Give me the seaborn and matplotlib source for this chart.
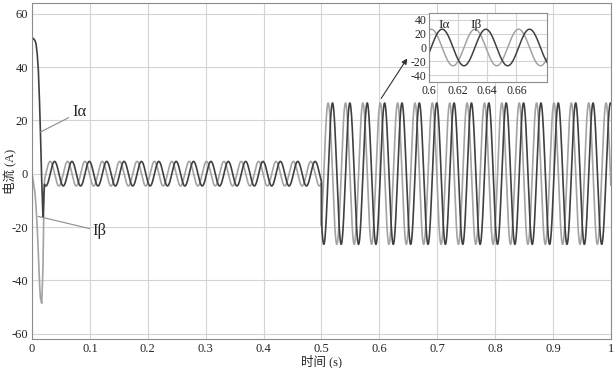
import numpy as np
import pandas as pd
import matplotlib
matplotlib.use("Agg")
import matplotlib.pyplot as plt
import seaborn as sns

# --- Data ---
# start-up transient (t in s, current in A)
trans_t = [0.0, 0.002, 0.005, 0.007, 0.009, 0.011, 0.013, 0.0145, 0.0168, 0.019, 0.0205]
trans_alpha = [50.5, 50.8, 50.0, 48.7, 45.0, 38.7, 27.0, 16.2, -2.5, -16.3, -8.0]
trans_beta = [0.0, -2.5, -7.0, -12.5, -20.0, -30.0, -41.0, -46.5, -48.6, -35.0, -12.5]

# steady segments: start, end, amplitude, period, time of first Ialpha / Ibeta peak
seg_start = [0.0215, 0.5]
seg_end = [0.5, 1.0]
seg_amp = [4.6, 26.5]
seg_period = [0.03, 0.03]
peak_alpha = [0.039, 0.039]
peak_beta = [0.0315, 0.0315]

xticks = [0, 0.1, 0.2, 0.3, 0.4, 0.5, 0.6, 0.7, 0.8, 0.9, 1]
xtick_labels = ['0', '0.1', '0.2', '0.3', '0.4', '0.5', '0.6', '0.7', '0.8', '0.9', '1']
yticks = [-60, -40, -20, 0, 20, 40, 60]
inset_xticks = [0.6, 0.62, 0.64, 0.66]
inset_yticks = [-40, -20, 0, 20, 40]

# --- Build the waveforms ---
t_parts, a_parts, b_parts = [np.array(trans_t)], [np.array(trans_alpha)], [np.array(trans_beta)]
for s, e, amp, T, pa, pb in zip(seg_start, seg_end, seg_amp, seg_period, peak_alpha, peak_beta):
    t = np.arange(s, e, 0.0002)
    t_parts.append(t)
    a_parts.append(amp * np.cos(2 * np.pi * (t - pa) / T))
    b_parts.append(amp * np.cos(2 * np.pi * (t - pb) / T))
t_all = np.concatenate(t_parts)
df = pd.DataFrame({'t': np.concatenate([t_all, t_all]),
                   'I': np.concatenate(a_parts + b_parts),
                   'sig': ['a'] * len(t_all) + ['b'] * len(t_all)})

sns.set_style("white")
plt.rcParams['font.family'] = ['Liberation Serif', 'Noto Sans CJK SC', 'DejaVu Sans']
plt.rcParams['mathtext.fontset'] = 'stix'
plt.rcParams['axes.unicode_minus'] = False

dark, light, gridc, framec = '#404040', '#a3a3a3', '#d4d4d4', '#8c8c8c'

fig = plt.figure(figsize=(6.14, 3.68), dpi=100)
ax = fig.add_axes([0.0521, 0.0788, 0.943, 0.913])


def draw(axis, lw):
    # light curve underneath, dark curve on top
    sns.lineplot(data=df[df.sig == 'b'], x='t', y='I', color=light, lw=lw,
                 estimator=None, sort=False, ax=axis, legend=False)
    sns.lineplot(data=df[df.sig == 'a'], x='t', y='I', color=dark, lw=lw,
                 estimator=None, sort=False, ax=axis, legend=False)
    axis.grid(True, color=gridc, lw=0.8)
    axis.set_axisbelow(True)
    for sp in axis.spines.values():
        sp.set_color(framec)
        sp.set_linewidth(0.8)
    axis.tick_params(direction='in', length=3, color=framec, labelsize=9, pad=3)
    axis.set_xlabel('')
    axis.set_ylabel('')


draw(ax, 1.2)
ax.set_xlim(0, 1)
ax.set_ylim(-62, 64)
ax.set_xticks(xticks)
ax.set_xticklabels(xtick_labels)
ax.set_yticks(yticks)
ax.tick_params(axis='x', pad=3)
ax.set_xlabel('时间 (s)', fontsize=9)
ax.set_ylabel('电流 (A)', fontsize=9)
ax.xaxis.set_label_coords(0.5, -0.045)
ax.yaxis.set_label_coords(-0.027, 0.5)

# curve labels
ax.annotate('Iα', xy=(0.0145, 15.6), xytext=(0.069, 23), fontsize=12, va='center', ha='left',
            arrowprops=dict(arrowstyle='-', color='#8c8c8c', lw=0.8, shrinkA=0, shrinkB=0))
ax.annotate('Iβ', xy=(0.0104, -16.0), xytext=(0.105, -21.5), fontsize=12, va='center', ha='left',
            arrowprops=dict(arrowstyle='-', color='#8c8c8c', lw=0.8, shrinkA=0, shrinkB=0))
# arrow to the zoomed view
ax.annotate('', xy=(0.648, 43.2), xytext=(0.603, 28.2),
            arrowprops=dict(arrowstyle='-|>', color='#333333', lw=0.8, mutation_scale=8,
                            shrinkA=0, shrinkB=0))

# --- Inset ---
axin = fig.add_axes([0.6987, 0.7772, 0.1922, 0.1875])
axin.set_facecolor('white')
draw(axin, 1.1)
axin.set_xlim(0.6, 0.681)
axin.set_ylim(-50, 50)
axin.set_xticks(inset_xticks)
axin.set_xticklabels(['0.6', '0.62', '0.64', '0.66'])
axin.set_yticks(inset_yticks)
axin.tick_params(labelsize=8.5, pad=2)
axin.text(0.6065, 33, 'Iα', fontsize=9.5, ha='left', va='center')
axin.text(0.6285, 33, 'Iβ', fontsize=9.5, ha='left', va='center')

plt.savefig('out.png', dpi=100)
